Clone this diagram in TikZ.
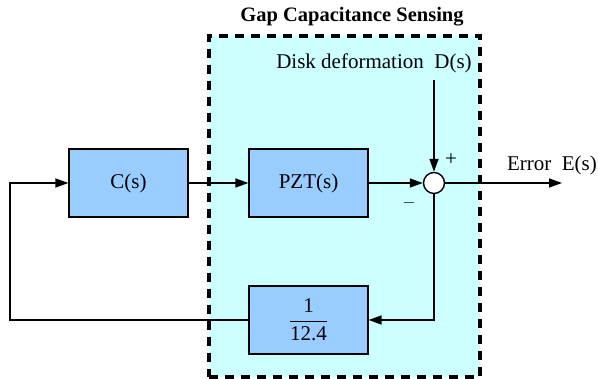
\documentclass[tikz,border=0pt]{standalone}
\usepackage{amsmath}
\usepackage{fontspec}
\setmainfont{Liberation Serif}
\usetikzlibrary{arrows.meta}
\definecolor{sensecyan}{HTML}{CCFFFF}
\definecolor{blockblue}{HTML}{99CCFF}

\begin{document}
\begin{tikzpicture}[x=1pt, y=1pt, >={Triangle[length=13pt,width=9pt]},
    block/.style = {draw, line width=1.2pt, fill=blockblue, minimum width=119pt,
      minimum height=68pt, font=\fontsize{21}{25}\selectfont},
    lbl/.style = {font=\fontsize{21}{25}\selectfont},
    wire/.style = {line width=1.5pt}]
    \useasboundingbox (0,0) rectangle (598,379);
    \node [draw, line width=3.2pt, dash pattern=on 9pt off 7pt, fill=sensecyan,
      minimum width=271pt, minimum height=341pt] (sensing) at (344.5,172.5) {};
    \node [font=\bfseries\fontsize{20.5}{24}\selectfont] (title) at (352,362) {Gap Capacitance Sensing};
    \node [block] (ctrl) at (128.5,196) {C(s)};
    \node [block] (pzt) at (308.5,196) {PZT(s)};
    \node [block] (gain) at (308.5,59) {$\dfrac{\text{1}}{\text{12.4}}$};
    \node [draw, circle, line width=1.4pt, fill=white, minimum size=21pt, inner sep=0pt] (sum) at (434,196) {};
    \node [lbl] (dist) at (374,316) {Disk deformation~~D(s)};
    \node [lbl] (err) at (552,214) {Error~~E(s)};
    \node [font=\fontsize{21}{24}\selectfont] (plus) at (451,219) {+};
    \node [font=\fontsize{18}{20}\selectfont] (minus) at (409,176) {$-$};
    \coordinate (dtop) at (434,299);
    \coordinate (out) at (562,196);
    \coordinate (fbl) at (10,59);
    \coordinate (fbr) at (434,59);

    \draw [wire, ->] (ctrl) -- (pzt);
    \draw [wire, ->] (pzt) -- (sum);
    \draw [wire, ->] (dtop) -- (sum);
    \draw [wire, ->] (sum) -- (out);
    \draw [wire, ->] (sum) -- (fbr) -- (gain);
    \draw [wire, ->] (gain) -- (fbl) |- (ctrl);
\end{tikzpicture}
\end{document}
